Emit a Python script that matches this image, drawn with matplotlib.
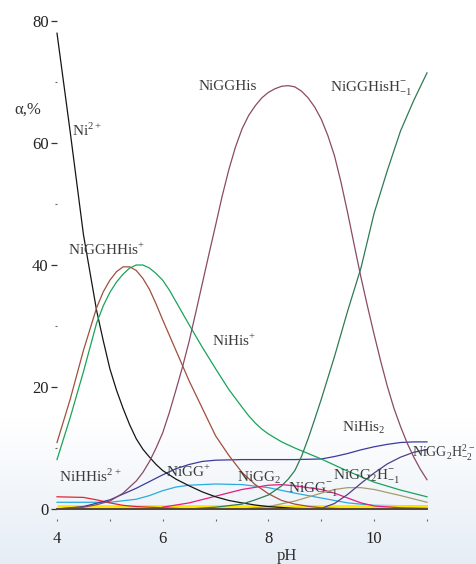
import numpy as np
import matplotlib
matplotlib.use('Agg')
import matplotlib.pyplot as plt
from matplotlib.ticker import FixedLocator

# species distribution, alpha in % vs pH
ph_ni = [4.0, 4.25, 4.5, 4.75, 4.875, 5.0, 5.125, 5.25, 5.375, 5.5, 5.625, 5.75, 5.875,
         6.0, 6.25, 6.5, 6.75, 7.0, 7.25, 7.5, 7.75, 8.0, 8.5, 9.0, 11.0]
ni = [78, 61.8, 45, 32.5, 27.6, 23, 19.5, 16.5, 13.8, 11.5, 9.8, 8.5, 7.3,
      6.3, 4.9, 3.8, 2.8, 2.0, 1.4, 1.0, 0.65, 0.4, 0.1, 0, 0]

ph_gghhis = [4.0, 4.25, 4.5, 4.75, 4.875, 5.0, 5.125, 5.25, 5.375, 5.5, 5.625, 5.75, 5.875,
             6.0, 6.25, 6.5, 6.75, 7.0, 7.25, 7.5, 7.75, 8.0, 8.25, 8.5, 8.75, 9.0, 9.5, 11.0]
gghhis = [10.9, 18, 26, 33, 35.6, 37.5, 38.9, 39.7, 39.7, 39.1, 37.8, 36, 33.6,
          31, 26, 21, 16.5, 12, 8.8, 6.0, 4.0, 2.5, 1.4, 0.8, 0.45, 0.2, 0, 0]

ph_his = [4.0, 4.25, 4.5, 4.75, 4.875, 5.0, 5.125, 5.25, 5.375, 5.5, 5.625, 5.75, 5.875,
          6.0, 6.125, 6.25, 6.5, 6.75, 7.0, 7.25, 7.5, 7.625, 7.75, 7.875, 8.0, 8.25, 8.5,
          8.75, 9.0, 9.5, 10.0, 10.5, 11.0]
nihis = [8.1, 15, 22.5, 30.5, 33.3, 35.5, 37.2, 38.5, 39.5, 40, 40, 39.5, 38.6,
         37.5, 35.9, 34, 30.2, 26.5, 23, 19.6, 16.7, 15.3, 14.1, 13.1, 12.3, 11.0, 10,
         9.1, 8.2, 6.2, 4.4, 3.1, 2.0]

ph_gghis = [4.0, 4.5, 4.75, 5.0, 5.25, 5.5, 5.625, 5.75, 5.875, 6.0, 6.125, 6.25, 6.375,
            6.5, 6.625, 6.75, 6.875, 7.0, 7.125, 7.25, 7.375, 7.5, 7.625, 7.75, 7.875,
            8.0, 8.125, 8.25, 8.375, 8.5, 8.625, 8.75, 8.875, 9.0, 9.125, 9.25, 9.375,
            9.5, 9.625, 9.75, 9.875, 10.0, 10.125, 10.25, 10.375, 10.5, 10.625, 10.75,
            10.875, 11.0]
gghis = [0, 0.3, 0.7, 1.3, 2.6, 4.6, 6.0, 7.8, 10.0, 12.5, 15.8, 19.5, 23.3,
         27.5, 32.2, 37, 41.8, 46.5, 51.3, 55.6, 59.3, 62.3, 64.5, 66.1, 67.4,
         68.3, 68.9, 69.3, 69.4, 69.2, 68.5, 67.4, 65.9, 63.9, 61.2, 57.9, 53.5,
         48.5, 43.2, 38, 33.2, 28.6, 24.2, 20.1, 16.5, 13.5, 10.8, 8.5,
         6.5, 4.8]

ph_gghish = [6.5, 7.0, 7.5, 7.75, 8.0, 8.25, 8.375, 8.5, 8.625, 8.75, 8.875, 9.0, 9.25,
             9.5, 9.75, 10.0, 10.25, 10.5, 10.75, 11.0]
gghish = [0, 0.3, 0.8, 1.5, 2.3, 3.8, 4.9, 6.3, 8.6, 11.5, 14.7, 18, 25,
          32.5, 39.5, 48.5, 55.5, 62, 67, 71.5]

ph_his2 = [4.0, 4.5, 5.0, 5.5, 6.0, 6.25, 6.5, 6.75, 7.0, 7.5, 8.0, 8.5, 9.0, 9.25, 9.5,
           9.75, 10.0, 10.25, 10.5, 10.75, 11.0]
his2 = [0, 0.4, 1.5, 3.4, 5.6, 6.6, 7.3, 7.8, 8.0, 8.1, 8.1, 8.1, 8.2, 8.6, 9.1,
        9.7, 10.2, 10.6, 10.9, 11.0, 11.0]

ph_gg2h2 = [4.0, 8.5, 9.0, 9.25, 9.5, 9.75, 10.0, 10.25, 10.5, 10.75, 11.0]
gg2h2 = [0, 0, 0.1, 0.9, 2.4, 4.2, 5.9, 7.4, 8.5, 9.3, 9.75]

ph_gg = [4.0, 4.5, 5.0, 5.5, 5.75, 6.0, 6.25, 6.5, 7.0, 7.5, 8.0, 8.5, 9.0, 9.5, 10.0, 11.0]
gg = [1.1, 1.1, 1.1, 1.6, 2.2, 3.0, 3.6, 3.9, 4.1, 4.0, 3.5, 2.6, 1.8, 1.0, 0.6, 0.5]

ph_gg2 = [6.0, 6.5, 7.0, 7.5, 8.0, 8.25, 8.5, 9.0, 9.25, 9.5, 9.75, 10.0, 10.5, 11.0]
gg2 = [0.3, 1.0, 2.1, 3.2, 3.9, 4.0, 3.8, 3.2, 2.6, 1.8, 1.0, 0.5, 0.2, 0.1]

ph_gg2h1 = [7.5, 8.0, 8.5, 9.0, 9.25, 9.5, 9.75, 10.0, 10.5, 11.0]
gg2h1 = [0, 0.4, 1.3, 2.6, 3.2, 3.5, 3.5, 3.2, 2.2, 1.1]

ph_hhis = [4.0, 4.5, 4.75, 5.0, 5.25, 5.5, 6.0, 6.5, 11.0]
hhis = [2.0, 1.9, 1.5, 1.0, 0.6, 0.4, 0.2, 0, 0]

# minor species lumped near zero (thick yellow band)
ph_minor = [4.0, 11.0]
minor = [0.4, 0.4]

plt.rcParams['font.family'] = ['Liberation Serif', 'DejaVu Serif']
plt.rcParams['mathtext.fontset'] = 'custom'
plt.rcParams['mathtext.rm'] = 'Liberation Serif'

fig = plt.figure(figsize=(4.76, 5.64), dpi=100)

# light gradient at the bottom of the page
bg = fig.add_axes([0, 0, 1, 0.26], zorder=-5)
grad = np.linspace(0, 1, 100).reshape(-1, 1)
c0 = np.array([0.90, 0.93, 0.96])
c1 = np.array([1.0, 1.0, 1.0])
img = c0 + (c1 - c0) * grad[..., None]
bg.imshow(img, aspect='auto', origin='lower', extent=[0, 1, 0, 1])
bg.axis('off')

ax = fig.add_axes([57 / 476, 55 / 564, 370 / 476, 488 / 564])
ax.set_facecolor('none')

lw = 0.9
ax.plot(ph_gg, gg, color='#29ABE2', lw=lw)
ax.plot(ph_minor, minor, color='#FFE600', lw=3.4, solid_capstyle='butt')
ax.plot(ph_hhis, hhis, color='#E0262E', lw=lw)
ax.plot(ph_gg2, gg2, color='#E8197F', lw=lw)
ax.plot(ph_gg2h1, gg2h1, color='#A89C6C', lw=lw)
ax.plot(ph_his2, his2, color='#3B3B9E', lw=lw)
ax.plot(ph_gg2h2, gg2h2, color='#4E3F86', lw=lw)
ax.plot(ph_ni, ni, color='#151515', lw=lw)
ax.plot(ph_gghhis, gghhis, color='#A0503C', lw=lw)
ax.plot(ph_his, nihis, color='#19A35A', lw=lw)
ax.plot(ph_gghis, gghis, color='#8A4A66', lw=lw)
ax.plot(ph_gghish, gghish, color='#2F7A55', lw=lw)
ax.axhline(0, color='#5a4a3a', lw=1.4)
for ln in ax.lines:
    ln.set_clip_on(False)

ax.set_xlim(4, 11)
ax.set_ylim(0, 80)

for s in ['top', 'right', 'left', 'bottom']:
    ax.spines[s].set_visible(False)
ax.spines['bottom'].set_position(('data', -1.6))

ax.xaxis.set_major_locator(FixedLocator([4, 6, 8, 10]))
ax.xaxis.set_minor_locator(FixedLocator([5, 7, 9, 11]))
ax.yaxis.set_major_locator(FixedLocator([0, 20, 40, 60, 80]))
ax.yaxis.set_minor_locator(FixedLocator([10, 30, 50, 70]))
ax.tick_params(axis='x', which='both', direction='out', length=1.5, width=0.8,
               color='#666666', labelsize=12, pad=7, labelcolor='#222222')
ax.tick_params(axis='y', which='major', direction='out', length=4, width=0.9,
               color='#333333', labelsize=12, pad=2, labelcolor='#222222')
ax.tick_params(axis='y', which='minor', direction='out', length=1.5, width=0.8,
               color='#666666')

fig.text(28 / 476, 0.805, 'α,%', fontsize=12, color='#333333', ha='center', va='center')
fig.text(0.603, 0.028, 'pH', fontsize=12, color='#333333', ha='center', va='top')

# species labels
tc = '#3a3a3a'
fs = 11
labels = [
    (4.28, 62.1, r'Ni$^{2+}$'),
    (6.67, 69.3, 'NiGGHis'),
    (9.17, 68.8, r'NiGGHisH$^{-}_{-1}$'),
    (4.21, 42.5, r'NiGGHHis$^{+}$'),
    (6.94, 27.6, r'NiHis$^{+}$'),
    (4.04, 5.3, r'NiHHis$^{2+}$'),
    (6.06, 6.1, r'NiGG$^{+}$'),
    (7.41, 5.1, r'NiGG$_{2}$'),
    (8.37, 3.1, r'NiGG$^{-}_{-1}$'),
    (9.4, 13.4, r'NiHis$_{2}$'),
    (9.23, 5.1, r'NiGG$_{2}$H$^{-}_{-1}$'),
]
for x, y, t in labels:
    ax.text(x, y, t, fontsize=fs, color=tc, ha='left', va='center')
# the last label sits at the right edge, keep it inside the page
ax.text(10.72, 9.2, r'NiGG$_{2}$H$^{2-}_{-2}$', fontsize=10, color=tc,
        ha='left', va='center')

fig.savefig('out.png', dpi=100)
